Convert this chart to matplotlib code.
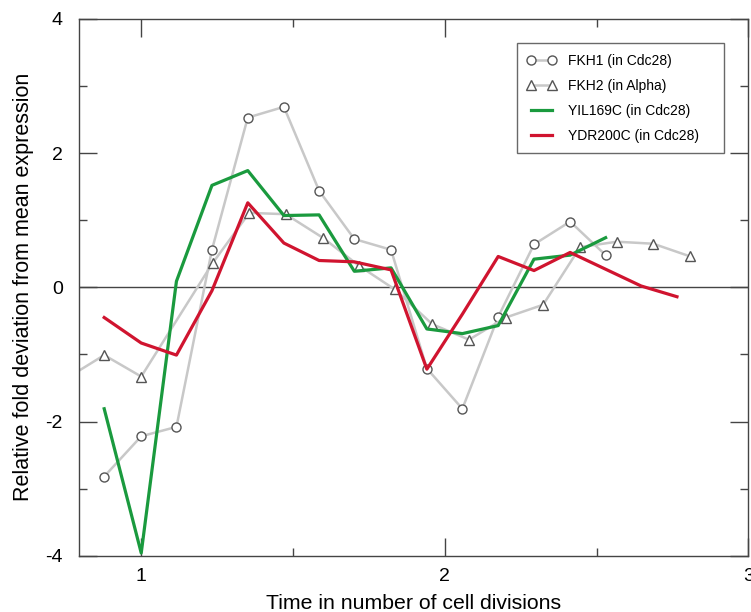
import matplotlib
matplotlib.use("Agg")
import matplotlib.pyplot as plt
from matplotlib.ticker import MultipleLocator

plt.rcParams['font.family'] = ['Liberation Sans', 'DejaVu Sans']
plt.rcParams['axes.unicode_minus'] = False

# Cdc28 time points (cell divisions)
x_cdc28 = [0.878, 1.0, 1.116, 1.233, 1.351, 1.470, 1.586, 1.702, 1.823, 1.941,
           2.058, 2.176, 2.294, 2.413, 2.530]
fkh1 = [-2.82, -2.22, -2.08, 0.56, 2.53, 2.69, 1.44, 0.72, 0.56, -1.21,
        -1.81, -0.44, 0.64, 0.98, 0.48]
yil169c = [-1.81, -3.96, 0.09, 1.52, 1.74, 1.07, 1.08, 0.24, 0.29, -0.62,
           -0.69, -0.57, 0.42, 0.48, 0.74]

x_ydr = [0.878, 1.0, 1.116, 1.233, 1.351, 1.470, 1.586, 1.702, 1.823, 1.941,
         2.058, 2.176, 2.294, 2.413, 2.530, 2.647, 2.765]
ydr200c = [-0.45, -0.83, -1.01, -0.05, 1.26, 0.66, 0.40, 0.38, 0.26, -1.22,
           -0.40, 0.46, 0.25, 0.52, 0.27, 0.02, -0.14]

# Alpha factor time points
x_alpha = [0.76, 0.878, 1.0, 1.235, 1.356, 1.476, 1.598, 1.718, 1.835, 1.959,
           2.080, 2.201, 2.324, 2.446, 2.567, 2.687, 2.809]
fkh2 = [-1.34, -1.01, -1.33, 0.36, 1.11, 1.09, 0.74, 0.32, -0.03, -0.55,
        -0.78, -0.45, -0.26, 0.60, 0.68, 0.65, 0.46]

labels = ['FKH1 (in Cdc28)', 'FKH2 (in Alpha)', 'YIL169C (in Cdc28)', 'YDR200C (in Cdc28)']

fig = plt.figure(figsize=(7.51, 6.12), dpi=100)
ax = fig.add_axes([0.1056, 0.092, 0.8908, 0.877])

gray = '#c8c8c8'
medge = '#555555'
ax.axhline(0, color='#444444', lw=1.0, zorder=1)

ax.plot(x_cdc28, fkh1, color=gray, lw=1.8, marker='o', ms=6.5, mfc='white',
        mec=medge, mew=1.0, label=labels[0], zorder=2)
ax.plot(x_alpha, fkh2, color=gray, lw=1.8, marker='^', ms=7, mfc='white',
        mec=medge, mew=1.0, label=labels[1], zorder=2)
ax.plot(x_cdc28, yil169c, color='#1a9a3e', lw=2.3, label=labels[2], zorder=3)
ax.plot(x_ydr, ydr200c, color='#d0142f', lw=2.3, label=labels[3], zorder=4)

ax.set_xlim(0.796, 3.0)
ax.set_ylim(-4, 4)
ax.xaxis.set_major_locator(MultipleLocator(1))
ax.xaxis.set_minor_locator(MultipleLocator(0.5))
ax.yaxis.set_major_locator(MultipleLocator(2))
ax.yaxis.set_minor_locator(MultipleLocator(1))
ax.tick_params(which='both', direction='in', top=True, right=True, color='#444444')
ax.tick_params(which='major', length=13, width=1.0)
ax.tick_params(which='minor', length=6, width=1.0)
ax.tick_params(axis='y', which='major', pad=12, labelsize=14)
ax.tick_params(axis='x', which='major', pad=8.5, labelsize=14)
for s in ax.spines.values():
    s.set_color('#444444')
    s.set_linewidth(1.0)

ax.set_xlabel('Time in number of cell divisions', fontsize=15.3, labelpad=7)
ax.set_ylabel('Relative fold deviation from mean expression', fontsize=15.5, labelpad=8)

leg = ax.legend(loc='upper left', bbox_to_anchor=(0.654, 0.754, 0.31, 0.201),
                mode='expand', borderaxespad=0, fontsize=10,
                frameon=True, fancybox=False, edgecolor='#444444', numpoints=2,
                handlelength=2.1, borderpad=0.75, labelspacing=0.8, handletextpad=0.85)
leg.get_frame().set_linewidth(1.0)

fig.savefig('out.png', dpi=100)
